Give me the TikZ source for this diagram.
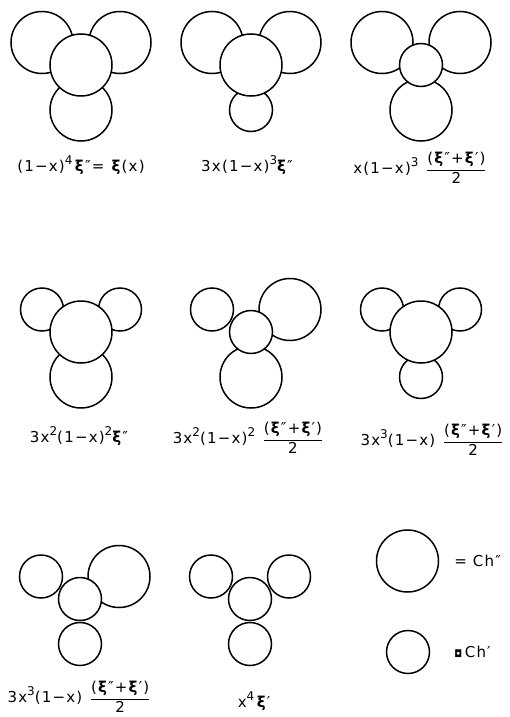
\documentclass[tikz,border=0pt]{standalone}
\usepackage{amsmath}
\usepackage{fontspec}
\setmainfont{DejaVu Sans}
\newfontfamily\lettering[LetterSpace=8]{DejaVu Sans}
\newcommand{\up}[1]{\raisebox{0.5em}{\fontsize{12}{12}\selectfont #1}}
\usepackage{tikz}
\usetikzlibrary{positioning, calc}

\begin{document}
\begin{tikzpicture}[x=1pt, y=-1pt,
  big/.style={circle, draw, fill=white, line width=1.5pt, minimum size=62pt, inner sep=0pt},
  small/.style={circle, draw, fill=white, line width=1.5pt, minimum size=43pt, inner sep=0pt},
  lbl/.style={font=\lettering\fontsize{15}{17}\selectfont, inner sep=0pt, align=center}]

\useasboundingbox (0,0) rectangle (509,717);

% row 1
\coordinate (m1) at (81,65);
\node[big] (l1) at ($(m1)+(-39,-22.5)$) {};
\node[big] (r1) at ($(m1)+(39,-22.5)$) {};
\node[big] (b1) at ($(m1)+(0,45)$) {};
\node[big] (c1) at (m1) {};
\node[lbl] (t1) at (81,165) {(1−x)\up{4}\,\textbf{ξ}″= \textbf{ξ}(x)};

\coordinate (m2) at (251,65);
\node[big] (l2) at ($(m2)+(-39,-22.5)$) {};
\node[big] (r2) at ($(m2)+(39,-22.5)$) {};
\node[small] (b2) at ($(m2)+(0,45)$) {};
\node[big] (c2) at (m2) {};
\node[lbl] (t2) at (247,165) {3x(1−x)\up{3}\textbf{ξ}″};

\coordinate (m3) at (421,65);
\node[big] (l3) at ($(m3)+(-39,-22.5)$) {};
\node[big] (r3) at ($(m3)+(39,-22.5)$) {};
\node[big] (b3) at ($(m3)+(0,45)$) {};
\node[small] (c3) at (m3) {};
\node[lbl] (t3) at (420,168) {x(1−x)\up{3}\enspace$\dfrac{\text{(\textbf{ξ}″+\textbf{ξ}′)}}{\text{2}}$};

% row 2
\coordinate (m4) at (81,332);
\node[small] (l4) at ($(m4)+(-39,-22.5)$) {};
\node[small] (r4) at ($(m4)+(39,-22.5)$) {};
\node[big] (b4) at ($(m4)+(0,45)$) {};
\node[big] (c4) at (m4) {};
\node[lbl] (t4) at (79,436) {3x\up{2}(1−x)\up{2}\textbf{ξ}″};

\coordinate (m5) at (251,332);
\node[small] (l5) at ($(m5)+(-39,-22.5)$) {};
\node[big] (r5) at ($(m5)+(39,-22.5)$) {};
\node[big] (b5) at ($(m5)+(0,45)$) {};
\node[small] (c5) at (m5) {};
\node[lbl] (t5) at (248,438) {3x\up{2}(1−x)\up{2}\enspace$\dfrac{\text{(\textbf{ξ}″+\textbf{ξ}′)}}{\text{2}}$};

\coordinate (m6) at (421,332);
\node[small] (l6) at ($(m6)+(-39,-22.5)$) {};
\node[small] (r6) at ($(m6)+(39,-22.5)$) {};
\node[small] (b6) at ($(m6)+(0,45)$) {};
\node[big] (c6) at (m6) {};
\node[lbl] (t6) at (432,440) {3x\up{3}(1−x)\enspace$\dfrac{\text{(\textbf{ξ}″+\textbf{ξ}′)}}{\text{2}}$};

% row 3
\coordinate (m7) at (80,599);
\node[small] (l7) at ($(m7)+(-39,-22.5)$) {};
\node[big] (r7) at ($(m7)+(39,-22.5)$) {};
\node[small] (b7) at ($(m7)+(0,45)$) {};
\node[small] (c7) at (m7) {};
\node[lbl] (t7) at (79,697) {3x\up{3}(1−x)\enspace$\dfrac{\text{(\textbf{ξ}″+\textbf{ξ}′)}}{\text{2}}$};

\coordinate (m8) at (250,599);
\node[small] (l8) at ($(m8)+(-39,-22.5)$) {};
\node[small] (r8) at ($(m8)+(39,-22.5)$) {};
\node[small] (b8) at ($(m8)+(0,45)$) {};
\node[small] (c8) at (m8) {};
\node[lbl] (t8) at (254,701) {x\up{4}\,\textbf{ξ}′};

% legend
\node[big] (chbig) at (407.5,561) {};
\node[small] (chsmall) at (408,652) {};
\node[lbl, right=15pt of chbig] (eqbig) {= Ch″};
\node[lbl, right=24pt of chsmall] (eqsmall) {{\normalsize ◘}\,Ch′};

\end{tikzpicture}
\end{document}
